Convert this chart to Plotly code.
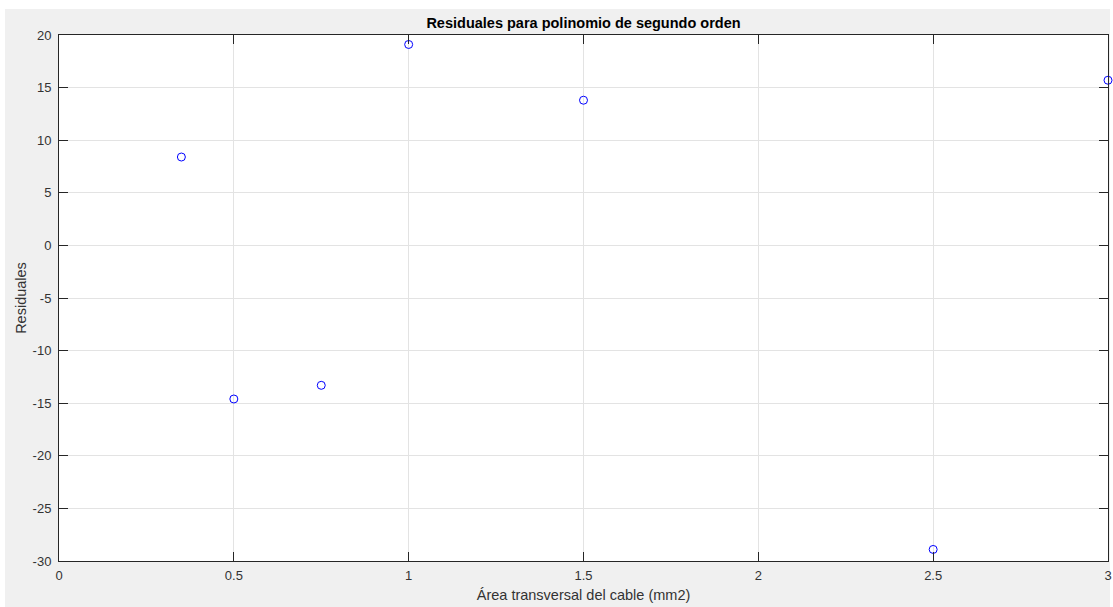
import plotly.graph_objects as go

# Cross-sectional area of the cable (mm2) and residuals of the 2nd-order fit
area_mm2 = [0.35, 0.5, 0.75, 1.0, 1.5, 2.5, 3.0]
residuales = [8.4, -14.6, -13.3, 19.1, 13.8, -28.9, 15.7]

x_ticks = [0, 0.5, 1, 1.5, 2, 2.5, 3]
x_tick_text = ["0", "0.5", "1", "1.5", "2", "2.5", "3"]
y_ticks = [-30, -25, -20, -15, -10, -5, 0, 5, 10, 15, 20]
y_tick_text = ["-30", "-25", "-20", "-15", "-10", "-5", "0", "5", "10", "15", "20"]

W, H = 1113, 607
ML, MR, MT, MB = 59, 5, 35, 46
PW, PH = W - ML - MR, H - MT - MB

FONT = "Liberation Sans, Arial, Helvetica, sans-serif"
AXIS_COLOR = "#262626"
GRID_COLOR = "#e3e3e3"
TEXT_COLOR = "#333333"

fig = go.Figure()
fig.add_trace(go.Scatter(
    x=area_mm2,
    y=residuales,
    mode="markers",
    marker=dict(symbol="circle-open", size=8, color="#0000ff",
                line=dict(width=1, color="#0000ff")),
    cliponaxis=False,
    showlegend=False,
))


def px_x(px):
    return (px - ML) / PW


def px_y(py):
    return (H - MB - py) / PH


# thin white border around the grey figure panel
strips = [
    (px_x(0), px_y(9), px_x(W), px_y(0)),      # top
    (px_x(0), px_y(H), px_x(5), px_y(0)),      # left
    (px_x(1110), px_y(H), px_x(W), px_y(0)),   # right
]
for x0, y0, x1, y1 in strips:
    fig.add_shape(type="rect", xref="paper", yref="paper",
                  x0=x0, y0=y0, x1=x1, y1=y1,
                  fillcolor="white", line=dict(width=0), layer="below")

axis_common = dict(
    showline=True, linecolor=AXIS_COLOR, linewidth=1, mirror="ticks",
    ticks="inside", ticklen=9, tickwidth=1, tickcolor=AXIS_COLOR,
    showgrid=True, gridcolor=GRID_COLOR, gridwidth=1,
    zeroline=False, automargin=False,
    tickfont=dict(family=FONT, size=13, color=TEXT_COLOR),
)

fig.update_xaxes(
    range=[0, 3], tickmode="array", tickvals=x_ticks, ticktext=x_tick_text,
    title=dict(text="Área transversal del cable (mm2)",
               font=dict(family=FONT, size=14.5, color=TEXT_COLOR), standoff=8),
    ticklabelstandoff=2,
    **axis_common,
)
fig.update_yaxes(
    range=[-30, 20], tickmode="array", tickvals=y_ticks, ticktext=y_tick_text,
    title=dict(text="Residuales",
               font=dict(family=FONT, size=14.5, color=TEXT_COLOR), standoff=2),
    ticklabelstandoff=4,
    **axis_common,
)

fig.update_layout(
    width=W, height=H,
    margin=dict(l=ML, r=MR, t=MT, b=MB, pad=0, autoexpand=False),
    paper_bgcolor="#f0f0f0",
    plot_bgcolor="white",
    title=dict(text="<b>Residuales para polinomio de segundo orden</b>",
               x=(ML + PW / 2) / W, xanchor="center",
               y=1 - 23 / H, yanchor="middle",
               font=dict(family=FONT, size=14.5, color="#000000")),
    font=dict(family=FONT),
)

fig.write_html("out.html")
